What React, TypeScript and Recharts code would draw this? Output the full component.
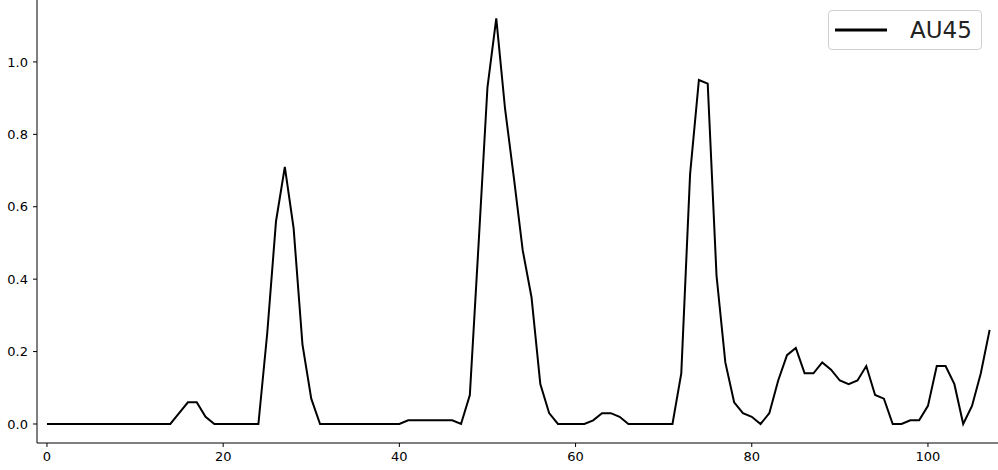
import React from 'react';
import { LineChart, Line, XAxis, YAxis } from 'recharts';

// frame index 0..107
const frames: number[] = Array.from({ length: 108 }, (_, i) => i);

// AU45 intensity per frame
const au45: number[] = [
  0, 0, 0, 0, 0, 0, 0, 0, 0, 0,
  0, 0, 0, 0, 0, 0.03, 0.06, 0.06, 0.02, 0,
  0, 0, 0, 0, 0, 0.25, 0.56, 0.71, 0.54, 0.22,
  0.07, 0, 0, 0, 0, 0, 0, 0, 0, 0,
  0, 0.01, 0.01, 0.01, 0.01, 0.01, 0.01, 0, 0.08, 0.5,
  0.93, 1.12, 0.87, 0.68, 0.48, 0.35, 0.11, 0.03, 0, 0,
  0, 0, 0.01, 0.03, 0.03, 0.02, 0, 0, 0, 0,
  0, 0, 0.14, 0.69, 0.95, 0.94, 0.41, 0.17, 0.06, 0.03,
  0.02, 0, 0.03, 0.12, 0.19, 0.21, 0.14, 0.14, 0.17, 0.15,
  0.12, 0.11, 0.12, 0.16, 0.08, 0.07, 0, 0, 0.01, 0.01,
  0.05, 0.16, 0.16, 0.11, 0, 0.05, 0.14, 0.26,
];

const xTicks = [0, 20, 40, 60, 80, 100];
const yTicks = [0, 0.2, 0.4, 0.6, 0.8, 1.0];

const seriesName = 'AU45';

const font = '"DejaVu Sans", sans-serif';

// legend is an overlay so it doesn't take room from the plot
function LegendBox() {
  return (
    <div
      style={{
        position: 'absolute',
        left: 828,
        top: 10,
        display: 'flex',
        alignItems: 'center',
        width: 154,
        height: 40,
        boxSizing: 'border-box',
        border: '1px solid #d0d0d0',
        borderRadius: 4,
        background: 'rgba(255,255,255,0.85)',
        fontFamily: font,
        fontSize: 23,
        color: '#222',
      }}
    >
      <svg width={60} height={40} style={{ marginLeft: 5 }}>
        <line x1={1} x2={53} y1={20} y2={20} stroke="#000" strokeWidth={3} />
      </svg>
      <span style={{ marginLeft: 16 }}>{seriesName}</span>
    </div>
  );
}

export default function App() {
  const data = frames.map((f, i) => ({ frame: f, value: au45[i] }));

  return (
    <div style={{ position: 'absolute', left: 0, top: 0, width: 998, height: 470, background: '#fff' }}>
      <LineChart width={998} height={470} data={data} margin={{ top: 0, right: 0, bottom: 0, left: 0 }}>
        <XAxis
          dataKey="frame"
          type="number"
          domain={[-1.13, 107.95]}
          ticks={xTicks}
          allowDataOverflow
          height={27}
          tickSize={4}
          tickMargin={5}
          stroke="#000"
          tick={{ fill: '#000', fontSize: 13, fontFamily: font }}
        />
        <YAxis
          type="number"
          domain={[-0.0525, 1.171]}
          ticks={yTicks}
          allowDataOverflow
          width={37}
          tickSize={4}
          tickMargin={5}
          stroke="#000"
          tickFormatter={(v: number) => v.toFixed(1)}
          tick={{ fill: '#000', fontSize: 13, fontFamily: font }}
        />
        <Line
          type="linear"
          dataKey="value"
          name={seriesName}
          stroke="#000"
          strokeWidth={2}
          dot={false}
          isAnimationActive={false}
        />
      </LineChart>
      <LegendBox />
    </div>
  );
}
